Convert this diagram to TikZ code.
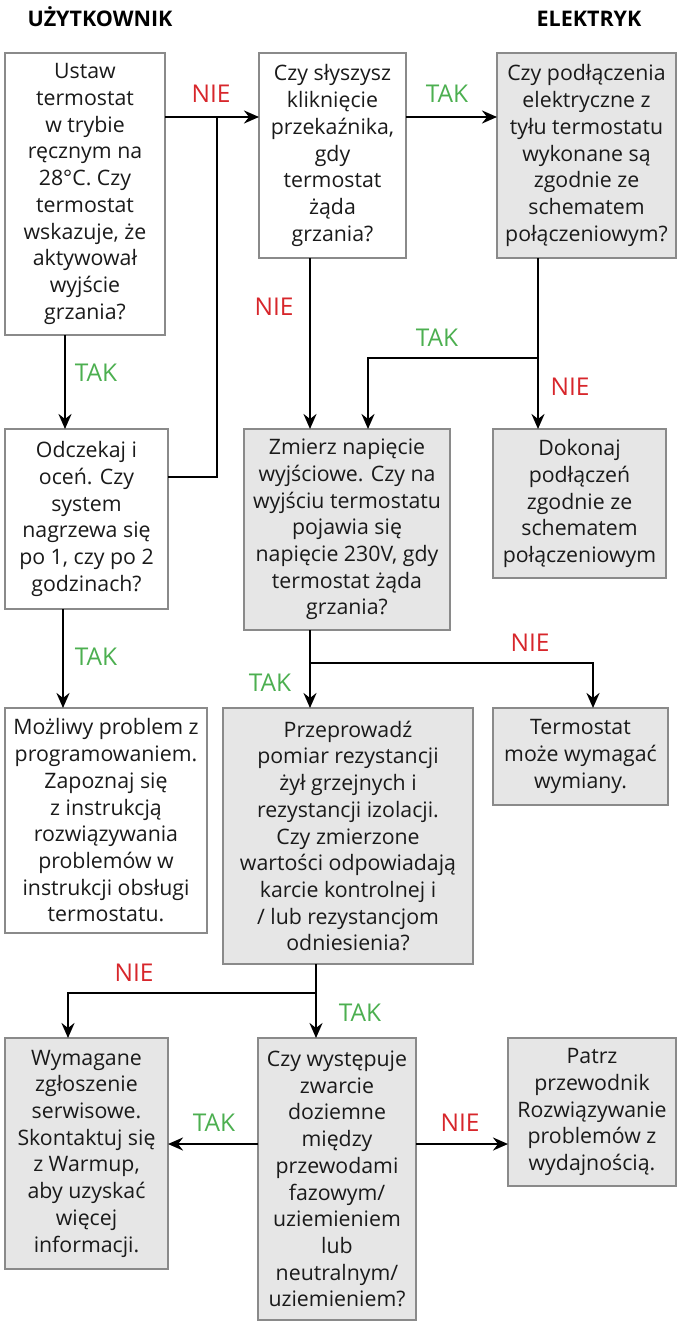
\documentclass[tikz,border=0pt]{standalone}
\usepackage{fontspec}
\setmainfont{Open Sans}
\usetikzlibrary{arrows.meta}
\definecolor{boxgray}{HTML}{E6E6E6}
\definecolor{edgegray}{HTML}{8A8A8A}
\definecolor{nored}{HTML}{D7262B}
\definecolor{yesgreen}{HTML}{4CAF50}
\definecolor{ink}{HTML}{1A1A1A}

\begin{document}
\begin{tikzpicture}[x=1pt,y=-1pt,
  every node/.style={inner sep=0pt, outer sep=0pt},
  txt/.style={font=\fontsize{21.3}{26.7}\selectfont, text=ink, align=center},
  plainbox/.style={txt, draw=edgegray, line width=1.2pt, fill=white},
  greybox/.style={plainbox, fill=boxgray},
  flow/.style={line width=2.6pt, draw=black},
  arr/.style={flow, -{Stealth[length=15pt,width=13pt,inset=5pt]}},
  yes/.style={font=\fontsize{24.5}{28}\selectfont, text=yesgreen},
  no/.style={font=\fontsize{24.5}{28}\selectfont, text=nored},
  head/.style={font=\bfseries\fontsize{21.5}{26}\selectfont, text=black, anchor=base}
]
\useasboundingbox (0,0) rectangle (677,1321);

% column headings
\node[head] (hUser) at (100,26.7) {UŻYTKOWNIK};
\node[head] (hElec) at (589,26.7) {ELEKTRYK};

% boxes
\node[plainbox, minimum width=160pt, minimum height=282pt] (b1) at (85,194)
  {Ustaw\\termostat\\w trybie\\ręcznym na\\28°C. Czy\\termostat\\wskazuje, że\\aktywował\\wyjście\\grzania?};
\node[plainbox, minimum width=147pt, minimum height=205pt] (b2) at (332.5,155.5)
  {Czy słyszysz\\kliknięcie\\przekaźnika,\\gdy\\termostat\\żąda\\grzania?};
\node[greybox, minimum width=179pt, minimum height=205pt] (b3) at (586.5,155.5)
  {Czy podłączenia\\elektryczne z\\tyłu termostatu\\wykonane są\\zgodnie ze\\schematem\\połączeniowym?};
\node[plainbox, minimum width=163pt, minimum height=180pt] (b4) at (86.5,519)
  {Odczekaj i\\oceń. Czy\\system\\nagrzewa się\\po 1, czy po 2\\godzinach?};
\node[greybox, minimum width=206pt, minimum height=201pt] (b5) at (347,529.5)
  {Zmierz napięcie\\wyjściowe. Czy na\\wyjściu termostatu\\pojawia się\\napięcie 230V, gdy\\termostat żąda\\grzania?};
\node[greybox, minimum width=173pt, minimum height=149pt] (b6) at (579.5,503.5)
  {Dokonaj\\podłączeń\\zgodnie ze\\schematem\\połączeniowym};
\node[plainbox, minimum width=202pt, minimum height=225pt] (b7) at (106,820.5)
  {Możliwy problem z\\programowaniem.\\Zapoznaj się\\z instrukcją\\rozwiązywania\\problemów w\\instrukcji obsługi\\termostatu.};
\node[greybox, minimum width=250pt, minimum height=256pt] (b8) at (348,836)
  {Przeprowadź\\pomiar rezystancji\\żył grzejnych i\\rezystancji izolacji.\\Czy zmierzone\\wartości odpowiadają\\karcie kontrolnej i\\/ lub rezystancjom\\odniesienia?};
\node[greybox, minimum width=175pt, minimum height=97pt] (b9) at (580.5,756.5)
  {Termostat\\może wymagać\\wymiany.};
\node[greybox, minimum width=163pt, minimum height=231pt] (b10) at (86.5,1153.5)
  {Wymagane\\zgłoszenie\\serwisowe.\\Skontaktuj się\\z Warmup,\\aby uzyskać\\więcej\\informacji.};
\node[greybox, minimum width=158pt, minimum height=282pt] (b11) at (337,1179)
  {Czy występuje\\zwarcie\\doziemne\\między\\przewodami\\fazowym/\\uziemieniem\\lub\\neutralnym/\\uziemieniem?};
\node[greybox, minimum width=168pt, minimum height=148pt] (b12) at (592,1112)
  {Patrz\\przewodnik\\Rozwiązywanie\\problemów z\\wydajnością.};

% junction points of the connectors
\coordinate (jTop) at (217,117);
\coordinate (jWait) at (217,477);
\coordinate (jRelay) at (310,0);
\coordinate (jWiring) at (538,358);
\coordinate (jWiringL) at (368,358);
\coordinate (jVolt) at (310,663);
\coordinate (jVoltR) at (593,663);
\coordinate (jRes) at (316,993);
\coordinate (jResL) at (68,993);
\coordinate (jShort) at (0,1144);

% connectors
\draw[arr] (b1.east |- jTop) -- (b2.west |- jTop);
\draw[flow] (b4.east |- jWait) -- (jWait) -- (jTop);
\draw[arr] (b2.east |- jTop) -- (b3.west |- jTop);
\draw[arr] (b1.south -| 65,0) -- (b4.north -| 65,0);
\draw[arr] (b4.south -| 63,0) -- (b7.north -| 63,0);
\draw[arr] (b2.south -| jRelay) -- (b5.north -| jRelay);
\draw[arr] (b3.south -| jWiring) -- (b6.north -| jWiring);
\draw[arr] (jWiring) -- (jWiringL) -- (b5.north -| jWiringL);
\draw[arr] (b5.south -| jVolt) -- (b8.north -| jVolt);
\draw[arr] (jVolt) -- (jVoltR) -- (b9.north -| jVoltR);
\draw[arr] (b8.south -| jRes) -- (b11.north -| jRes);
\draw[arr] (jRes) -- (jResL) -- (b10.north -| jResL);
\draw[arr] (b11.west |- jShort) -- (b10.east |- jShort);
\draw[arr] (b11.east |- jShort) -- (b12.west |- jShort);

% answer labels
\node[no]  (l1)  at (211,94)   {NIE};
\node[yes] (l2)  at (447,94)   {TAK};
\node[no]  (l3)  at (274,307)  {NIE};
\node[yes] (l4)  at (437,338)  {TAK};
\node[yes] (l5)  at (96,373)   {TAK};
\node[no]  (l6)  at (570,387)  {NIE};
\node[no]  (l7)  at (530,643)  {NIE};
\node[yes] (l8)  at (96,657)   {TAK};
\node[yes] (l9)  at (270,683)  {TAK};
\node[no]  (l10) at (134,973)  {NIE};
\node[yes] (l11) at (360,1013) {TAK};
\node[yes] (l12) at (214,1123) {TAK};
\node[no]  (l13) at (460,1123) {NIE};
\end{tikzpicture}
\end{document}
